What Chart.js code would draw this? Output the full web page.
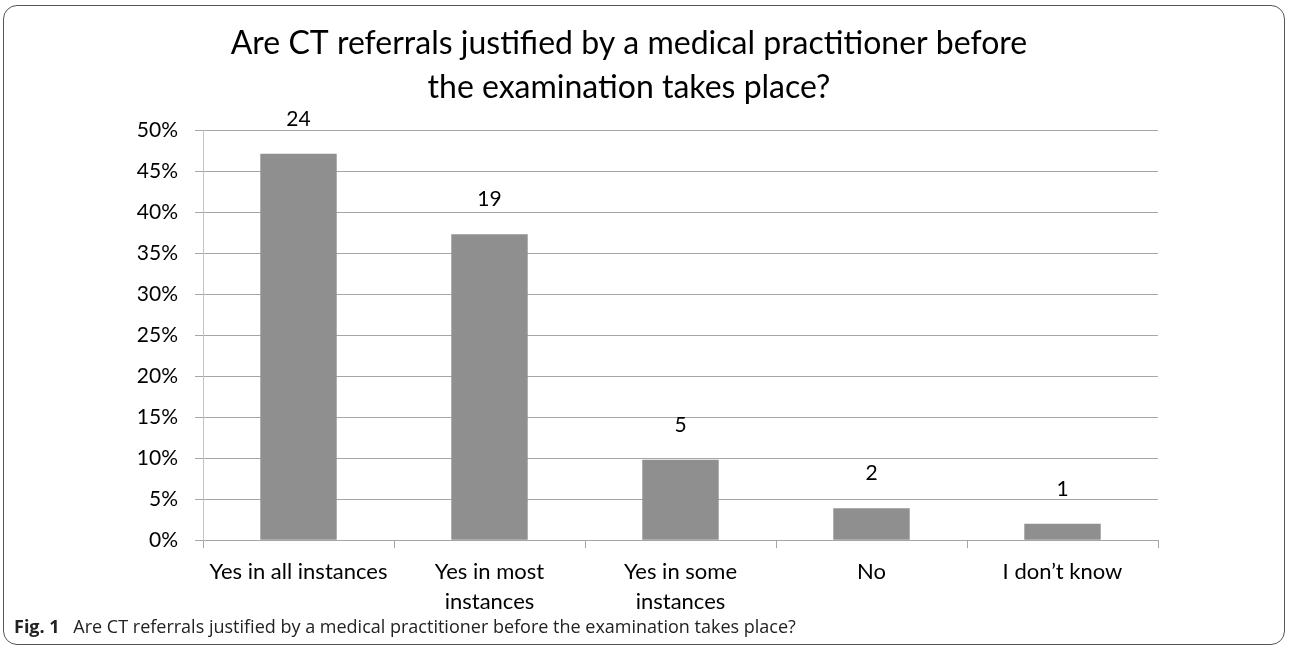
<!DOCTYPE html>
<html>
<head>
<meta charset="utf-8">
<script src="https://cdn.jsdelivr.net/npm/chart.js@4.4.1/dist/chart.umd.min.js"></script>
<style>
    body { margin: 0; background: #fff; }
    #frame { position: absolute; left: 3px; top: 5px; width: 1280px; height: 638px; border: 1.5px solid #555; border-radius: 14px; }
    #wrap { position: absolute; left: 0; top: 0; width: 1290px; height: 650px; }
    #caption { position: absolute; left: 14px; top: 614px; font-family: "Open Sans", sans-serif; font-size: 18px; color: #222; white-space: nowrap; }
    #caption b { font-size: 18px; margin-right: 9px; }
</style>
</head>
<body>
<div id="frame"></div>
<div id="wrap"><canvas id="chart" width="1290" height="650"></canvas></div>
<div id="caption"><b>Fig. 1</b> Are CT referrals justified by a medical practitioner before the examination takes place?</div>
<script>
// answers and what the bars show
const categories = ["Yes in all instances", ["Yes in most", "instances"], ["Yes in some", "instances"], "No", "I don\u2019t know"];
const percentages = [47.1, 37.3, 9.8, 3.9, 2.0];
const counts = [24, 19, 5, 2, 1];
const yTicks = [0, 5, 10, 15, 20, 25, 30, 35, 40, 45, 50];

const FONT = "Lato";

// draws the respondent counts over each bar
const countLabels = {
    id: "countLabels",
    afterDatasetsDraw(chart) {
        const ctx = chart.ctx;
        const bars = chart.getDatasetMeta(0).data;
        ctx.save();
        ctx.font = "21px " + FONT;
        ctx.fillStyle = "#000";
        ctx.textAlign = "center";
        ctx.textBaseline = "middle";
        bars.forEach((bar, i) => {
            ctx.fillText(String(counts[i]), bar.x, bar.y - 35);
        });
        ctx.restore();
    }
};

new Chart(document.getElementById("chart").getContext("2d"), {
    type: 'bar',
    data: {
        labels: categories,
        datasets: [
            {
                data: percentages,
                backgroundColor: '#8f8f8f',
                categoryPercentage: 1,
                barPercentage: 0.4
            }
        ]
    },
    options: {
        responsive: false,
        animation: false,
        layout: { padding: { left: 100, right: 132, top: 0, bottom: 24 } },
        plugins: {
            legend: { display: false },
            tooltip: { enabled: false },
            title: {
                display: true,
                text: ["Are CT referrals justified by a medical practitioner before", "the examination takes place?"],
                color: '#000',
                font: { family: FONT, size: 32, weight: 'normal', lineHeight: 1.375 },
                padding: { top: 22, bottom: 20 }
            }
        },
        scales: {
            x: {
                grid: { offset: true, drawOnChartArea: false, tickLength: 8, color: '#a6a6a6' },
                border: { color: '#a6a6a6' },
                ticks: { color: '#000', font: { family: FONT, size: 22, lineHeight: 1.36 }, padding: 9, maxRotation: 0, autoSkip: false }
            },
            y: {
                min: 0,
                max: 50,
                afterBuildTicks: (scale) => { scale.ticks = yTicks.map(v => ({ value: v })); },
                afterFit: (scale) => { scale.width = 103; },
                grid: { color: '#a6a6a6', tickLength: 8 },
                border: { color: '#c4c4c4' },
                ticks: { color: '#000', font: { family: FONT, size: 21 }, padding: 17, callback: (v) => v + '%' }
            }
        }
    },
    plugins: [countLabels]
});
</script>
</body>
</html>
